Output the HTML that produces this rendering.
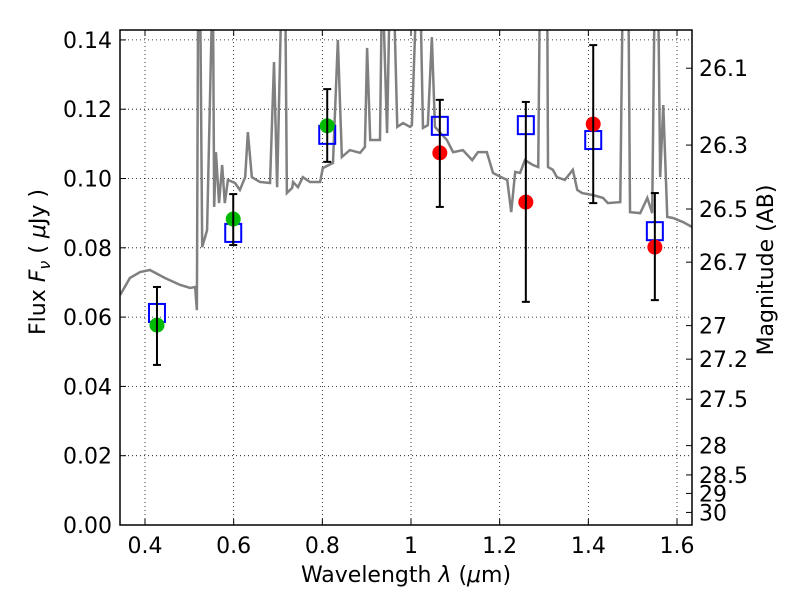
<!DOCTYPE html>
<html><head><meta charset="utf-8"><style>
body{margin:0;background:#fff}
svg text{font-family:"DejaVu Sans","Liberation Sans",sans-serif;fill:#000}
</style></head><body>
<svg id="chart" width="800" height="600" xmlns="http://www.w3.org/2000/svg"></svg>
<script>
const specLam=[.344,.366,.389,.411,.445,.479,.502,.513,.517,.520,.524,.529,.540,.553,.556,.560,.567,.574,.580,.587,.603,.614,.626,.632,.641,.659,.682,.691,.698,.709,.716,.720,.732,.734,.745,.756,.772,.795,.801,.824,.835,.844,.862,.885,.896,.901,.908,.930,.935,.946,.953,.960,.969,.982,.998,1.002,1.014,1.020,1.027,1.038,1.047,1.054,1.081,1.095,1.117,1.138,1.151,1.171,1.185,1.208,1.217,1.226,1.235,1.246,1.257,1.275,1.287,1.291,1.307,1.309,1.320,1.329,1.347,1.365,1.375,1.386,1.411,1.433,1.444,1.472,1.478,1.490,1.494,1.517,1.533,1.544,1.550,1.557,1.562,1.569,1.578,1.591,1.614,1.634];
const specFlux=[.0664,.0713,.0730,.0736,.0713,.0693,.0684,.0687,.0620,.16,.16,.0802,.0851,.16,.0918,.1076,.0929,.1039,.0929,.0996,.0987,.0967,.1004,.1134,.1004,.0990,.0987,.1336,.0975,.16,.16,.0958,.0973,.0990,.0975,.1004,.0990,.0990,.1030,.1045,.1400,.1062,.1082,.1074,.1091,.1377,.1111,.1111,.16,.1131,.16,.16,.1149,.1160,.1149,.1154,.16,.16,.1146,.1154,.1408,.1149,.1111,.1076,.1082,.1053,.1076,.1076,.1016,.1001,.0996,.0903,.1019,.1016,.1053,.1039,.1033,.16,.16,.1033,.1025,.1004,.0996,.1025,.0967,.0958,.0952,.0944,.0929,.0932,.16,.16,.0903,.0900,.0944,.0900,.16,.16,.1004,.1212,.0889,.0886,.0874,.0860];
const ptLam=[.427,.599,.811,1.065,1.259,1.411,1.550];
const modelFlux=[.0612,.0843,.1126,.1152,.1154,.1111,.0848];
const obsFlux=[.0577,.0883,.1152,.1074,.0932,.1157,.0802];
const obsGreen=[true,true,true,false,false,false,false];
const errLow=[.0462,.0808,.1048,.0918,.0644,.0929,.0649];
const errHigh=[.0687,.0955,.1258,.1227,.1221,.1385,.0958];
const xTicks=[0.4,0.6,0.8,1.0,1.2,1.4,1.6];
const xTickLabels=["0.4","0.6","0.8","1","1.2","1.4","1.6"];
const yTicks=[0,0.02,0.04,0.06,0.08,0.10,0.12,0.14];
const yTickLabels=["0.00","0.02","0.04","0.06","0.08","0.10","0.12","0.14"];
const magTicks=[26.1,26.3,26.5,26.7,27,27.2,27.5,28,28.5,29,30];
const magTickLabels=["26.1","26.3","26.5","26.7","27","27.2","27.5","28","28.5","29","30"];

const L=120,R=692,T=30,B=525,X0=0.3436,X1=1.6338,Y0=0,Y1=0.14286;
const sx=v=>L+(v-X0)/(X1-X0)*(R-L), sy=v=>B-(v-Y0)/(Y1-Y0)*(B-T);
const svg=document.getElementById('chart'),NS='http://www.w3.org/2000/svg';
function mk(t,a,p){const e=document.createElementNS(NS,t);for(const k in a)e.setAttribute(k,a[k]);(p||svg).appendChild(e);return e;}
const defs=mk('defs',{});const cp=mk('clipPath',{id:'clip'},defs);mk('rect',{x:L,y:T,width:R-L,height:B-T},cp);
const grid=mk('g',{});

xTicks.forEach((v,i)=>{const x=sx(v);
 mk('line',{x1:x,x2:x,y1:T,y2:B,stroke:'#000','stroke-dasharray':'1,3','stroke-width':0.8},grid);
 mk('line',{x1:x,x2:x,y1:B,y2:B-6,stroke:'#000'});mk('line',{x1:x,x2:x,y1:T,y2:T+6,stroke:'#000'});
 const t=mk('text',{x:x,y:B+28,'text-anchor':'middle','font-size':22});t.textContent=xTickLabels[i];
 });
yTicks.forEach((v,i)=>{const y=sy(v);
 mk('line',{x1:L,x2:R,y1:y,y2:y,stroke:'#000','stroke-dasharray':'1,3','stroke-width':0.8},grid);
 mk('line',{x1:L,x2:L+6,y1:y,y2:y,stroke:'#000'});
 const t=mk('text',{x:L-8,y:y+8,'text-anchor':'end','font-size':22});t.textContent=yTickLabels[i];
 });
magTicks.forEach((m,i)=>{const y=sy(Math.pow(10,(23.9-m)/2.5));
 mk('line',{x1:R,x2:R-6,y1:y,y2:y,stroke:'#000'});
 const t=mk('text',{x:R+7,y:y+8,'font-size':22});t.textContent=magTickLabels[i];
 });
const sp=mk('polyline',{points:specLam.map((l,i)=>sx(l)+','+sy(specFlux[i])).join(' '),fill:'none',stroke:'#808080','stroke-width':2.5,'clip-path':'url(#clip)'});

ptLam.forEach((l,i)=>{const x=sx(l);
 const sq=mk('rect',{x:x-8,y:sy(modelFlux[i])-9,width:16,height:18,fill:'none',stroke:'#0000ff','stroke-width':2});
 
 const c=mk('circle',{cx:x,cy:sy(obsFlux[i]),r:7.5,fill:obsGreen[i]?'#00bb00':'#ff0000'});
 
 const g=mk('g',{stroke:'#000','stroke-width':2});
 
 mk('line',{x1:x,x2:x,y1:sy(errLow[i]),y2:sy(errHigh[i])},g);
 mk('line',{x1:x-4,x2:x+4,y1:sy(errLow[i]),y2:sy(errLow[i])},g);
 mk('line',{x1:x-4,x2:x+4,y1:sy(errHigh[i]),y2:sy(errHigh[i])},g);});
const fr=mk('rect',{x:L,y:T,width:R-L,height:B-T,fill:'none',stroke:'#000','stroke-width':1.5});

</script>
<svg style="position:absolute;left:0;top:0" width="800" height="600">
<text x="406" y="582" text-anchor="middle" font-size="22">Wavelength  <tspan font-style="italic">λ</tspan> (<tspan font-style="italic">μ</tspan>m)</text>
<text transform="translate(45,262) rotate(-90)" text-anchor="middle" font-size="22">Flux  <tspan font-style="italic">F</tspan><tspan font-style="italic" font-size="16" dy="5">ν</tspan><tspan dy="-5">  ( </tspan><tspan font-style="italic">μ</tspan>Jy )</text>
<text transform="translate(773,270) rotate(-90)" text-anchor="middle" font-size="22">Magnitude (AB)</text>
</svg>
</body></html>
